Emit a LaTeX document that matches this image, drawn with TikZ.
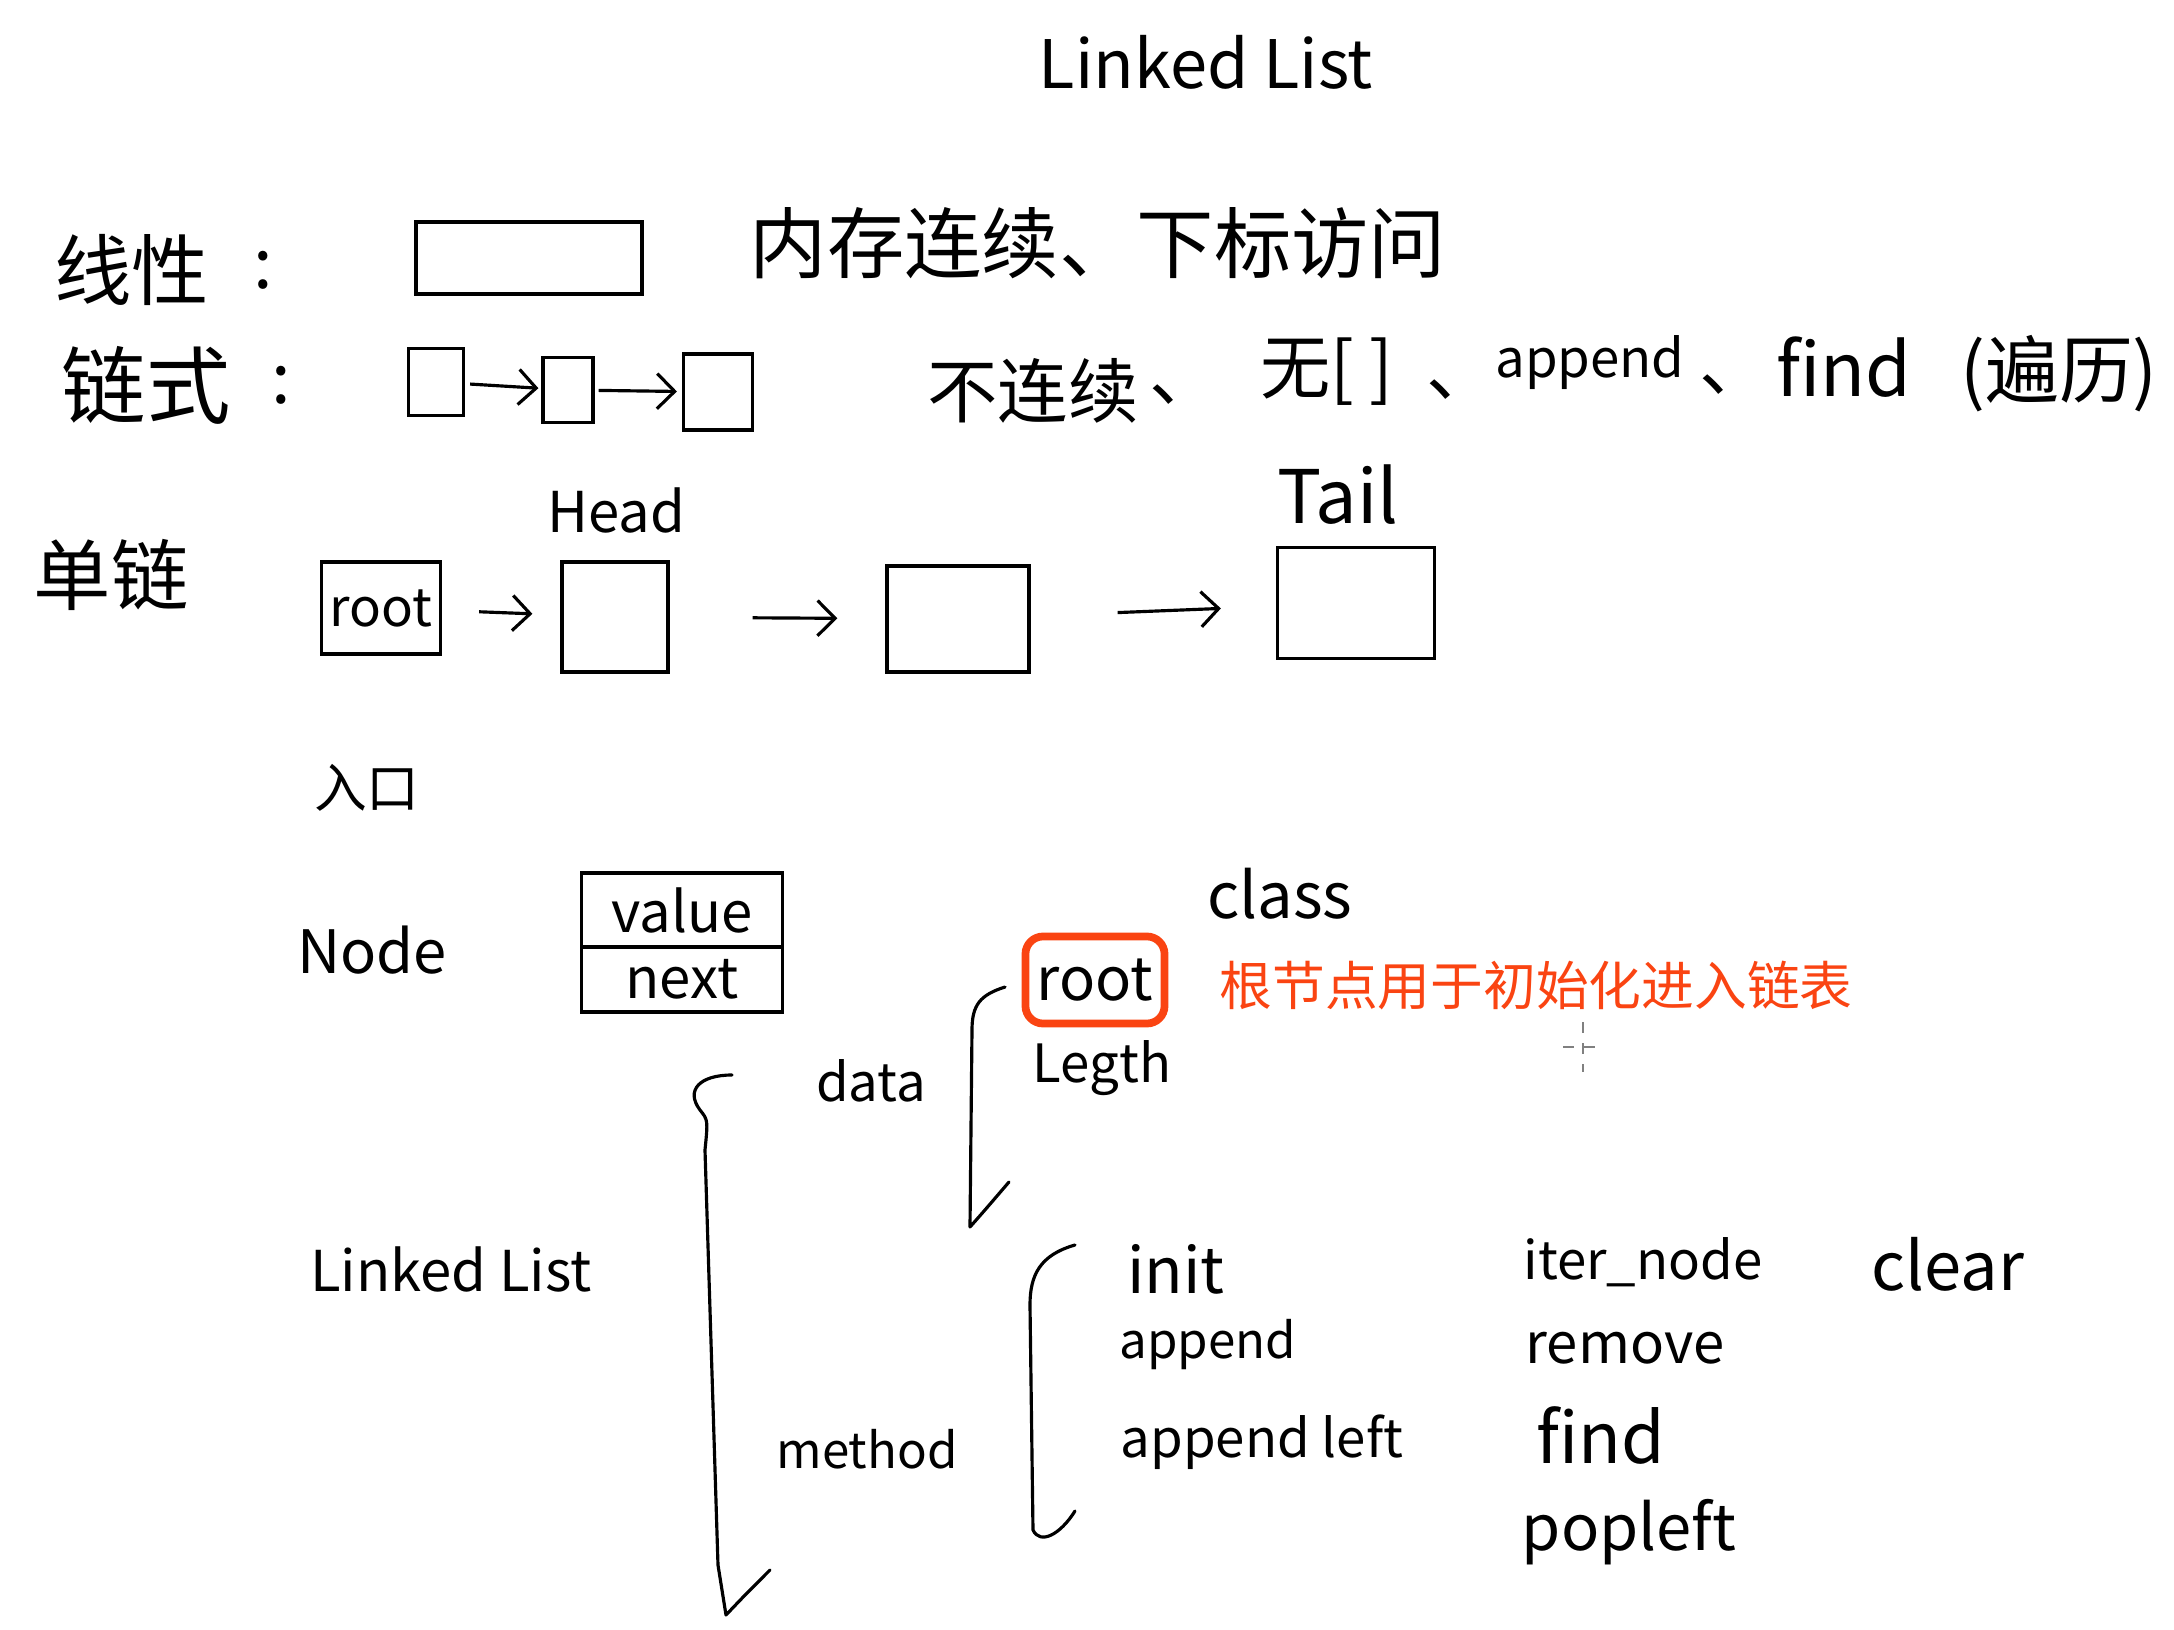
\documentclass[tikz,border=0pt]{standalone}
\usepackage{fontspec}
\setmainfont{Noto Sans CJK SC}
\usetikzlibrary{arrows.meta}
\definecolor{redmark}{RGB}{250,68,18}
\begin{document}
\begin{tikzpicture}[x=0.01cm,y=-0.01cm,line width=0.9pt,
  hw/.style={inner sep=0pt,font=\fontsize{#1}{#1}\selectfont},
  box/.style={draw,inner sep=0pt},
  arr/.style={-{Straight Barb[length=5pt,width=10pt]}},
  brace/.style={line cap=round,line join=round}]
\useasboundingbox (0,0) rectangle (2174,1630);
% title
\node[hw=19] (title) at (1206,62) {Linked List};
% row 1
\node[hw=22] (xianxing) at (132,270) {线性};
\node[hw=20] (colon1) at (263,270) {:};
\node[box,minimum width=2.26cm,minimum height=0.72cm] (array) at (529,258) {};
\node[hw=22] (arraytxt) at (1098,243) {内存连续、下标访问};
% row 2
\node[hw=24] (lianshi) at (146,385) {链式};
\node[hw=20] (colon2) at (281,385) {:};
\node[box,minimum width=0.55cm,minimum height=0.67cm] (b1) at (436,382) {};
\node[box,minimum width=0.50cm,minimum height=0.65cm] (b2) at (568,390) {};
\node[box,minimum width=0.69cm,minimum height=0.76cm] (b3) at (718,392) {};
\draw[arr,shorten <=0.05cm,shorten >=0.03cm] (b1) -- (b2);
\draw[arr,shorten <=0.04cm,shorten >=0.05cm] (b2) -- (b3);
\node[hw=20] (bulianxu) at (1033,391) {不连续};
\node[hw=20] (dun1) at (1185,395) {、};
\node[hw=20] (wu) at (1327,372) {无[ ]};
\node[hw=20] (dun2) at (1462,390) {、};
\node[hw=15] (app1) at (1590,363) {append};
\node[hw=20] (dun3) at (1735,385) {、};
\node[hw=21] (find1) at (1844,367) {find};
\node[hw=21] (bianli) at (2059,374) {(遍历)};
% singly linked list
\node[hw=22] (danlian) at (111,575) {单链};
\node[box,minimum width=1.19cm,minimum height=0.92cm,hw=15] (root) at (381,608) {root};
\node[box,minimum width=1.06cm,minimum height=1.10cm] (head) at (615,617) {};
\node[box,minimum width=1.42cm,minimum height=1.06cm] (mid) at (958,619) {};
\node[box,minimum width=1.57cm,minimum height=1.11cm] (tail) at (1356,603) {};
\node[hw=16] (headlbl) at (616,510) {Head};
\node[hw=21] (taillbl) at (1338,495) {Tail};
\draw[arr,shorten <=0.37cm,shorten >=0.28cm] (root) -- (head);
\draw[arr,shorten <=0.83cm,shorten >=0.48cm] (head) -- (mid);
\draw[arr,shorten <=0.87cm,shorten >=0.55cm] (mid) -- (tail);
\node[hw=15] (rukou) at (367,788) {入口};
% Node
\node[hw=17] (nodelbl) at (372,950) {Node};
\node[box,minimum width=2.01cm,minimum height=0.74cm,hw=16] (value) at (682,910) {value};
\node[box,minimum width=2.01cm,minimum height=0.65cm,hw=16] (next) at (682,979.5) {next};
% class
\node[hw=18] (classlbl) at (1280,894) {class};
\node[draw=redmark,line width=2.2pt,rounded corners=5pt,minimum width=1.39cm,minimum height=0.87cm,hw=17] (root2) at (1095,980) {root};
\node[hw=15,text=redmark] (note) at (1536,986) {根节点用于初始化进入链表};
\node[hw=15] (length) at (1102,1068) {Legth};
\node[hw=15] (data) at (871,1081) {data};
\node[hw=16] (ll) at (451,1269) {Linked List};
\node[hw=14] (method) at (867,1449) {method};
\node[hw=18] (init) at (1176,1269) {init};
\node[hw=14] (append) at (1208,1345) {append};
\node[hw=15] (appendleft) at (1262,1442) {append left};
\node[hw=15] (iternode) at (1643,1262) {iter\_node};
\node[hw=16] (remove) at (1625,1348) {remove};
\node[hw=20] (find) at (1601,1435) {find};
\node[hw=18] (popleft) at (1629,1532) {popleft};
\node[hw=19] (clear) at (1948,1264) {clear};
% braces
\draw[brace] (1005,987) .. controls (980,995) and (972,1005) .. (972,1030) -- (970,1227) .. controls (985,1210) .. (1009,1182);
\draw[brace] (732,1075) .. controls (700,1075) and (685,1090) .. (700,1110) .. controls (708,1120) .. (705,1150) -- (718,1565) -- (726,1615) .. controls (745,1595) .. (770,1570);
\draw[brace] (1075,1245) .. controls (1040,1255) and (1030,1275) .. (1030,1305) -- (1033,1530) .. controls (1040,1545) and (1060,1535) .. (1075,1511);
% cursor
\draw[gray,dashed,line width=0.5pt] (1583,1022) -- (1583,1072);
\draw[gray,dashed,line width=0.5pt] (1563,1047) -- (1603,1047);
\end{tikzpicture}
\end{document}
